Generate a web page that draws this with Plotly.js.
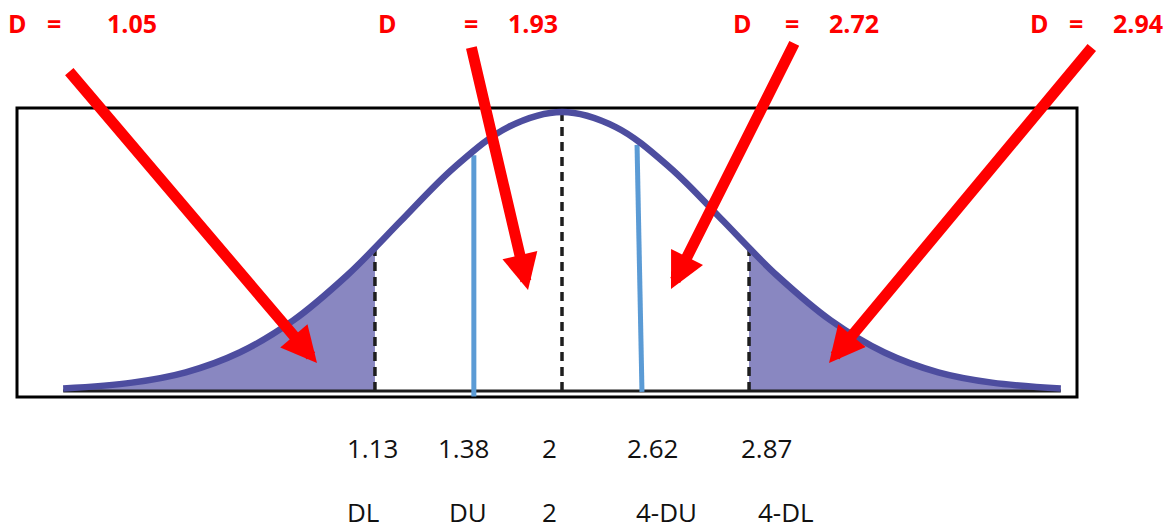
<!DOCTYPE html>
<html>
<head>
<meta charset="utf-8">
<script src="https://cdn.plot.ly/plotly-3.0.1.min.js"></script>
<style>html,body{margin:0;padding:0;background:#fff;}#chart{width:1176px;height:529px;}</style>
</head>
<body>
<div id="chart"></div>
<script>
// ---- data (Durbin-Watson d scale) ----
const curveX = [-0.32, 0, 0.25, 0.5, 0.75, 1.0, 1.13, 1.25, 1.5, 1.75, 2.0, 2.25, 2.5, 2.75, 2.87, 3.0, 3.25, 3.5, 3.75, 4.0, 4.32];
const curveY = [0.009, 0.030, 0.067, 0.138, 0.253, 0.414, 0.513, 0.609, 0.802, 0.946, 1.000, 0.946, 0.802, 0.609, 0.513, 0.414, 0.253, 0.138, 0.067, 0.030, 0.009];
const dL = 1.13, center = 2, fourMinusDL = 2.87;
const duLineX = [1.59, 1.59], duLineY = [-0.02, 0.845];
const fourMinusDuLineX = [2.372, 2.349], fourMinusDuLineY = [-0.003, 0.882];
const valueLabels = ['1.13', '1.38', '2', '2.62', '2.87'];
const valueLabelX = [1.119, 1.540, 1.940, 2.421, 2.953];
const nameLabels = ['DL', 'DU', '2', '4-DU', '4-DL'];
const nameLabelX = [1.074, 1.563, 1.940, 2.488, 3.042];
const dValues = ['1.05', '1.93', '2.72', '2.94'];
const dLetterX = [17.5, 387.5, 742, 1039];      // px
const dEqualX = [54, 470.5, 792, 1075.5];       // px
const dValueX = [132, 533, 853.5, 1137.5];      // px
const arrowTipX = [0.8605, 1.842, 2.507, 3.242];
const arrowTipY = [0.100, 0.362, 0.366, 0.100];
const arrowTailDX = [-249, -57, 124, 264];
const arrowTailDY = [-293, -244, -247, -317];

// ---- geometry ----
const W = 1176, H = 529;
const pxPerX = 215, pxPerY = 279, centerPx = 562, basePx = 391;
const xRange = [center - centerPx / pxPerX, center + (W - centerPx) / pxPerX];
const yRange = [-(H - basePx) / pxPerY, basePx / pxPerY];

const idx = v => curveX.indexOf(v);
const iL = idx(dL), iR = idx(fourMinusDL), iC = idx(center);

const fillColor = '#8987c1', lineColor = '#4d4d9f';
const traces = [];
traces.push({x: curveX.slice(0, iL + 1), y: curveY.slice(0, iL + 1), mode: 'lines', line: {width: 0, shape: 'spline', color: fillColor}, fill: 'tozeroy', fillcolor: fillColor, hoverinfo: 'skip'});
traces.push({x: curveX.slice(iR), y: curveY.slice(iR), mode: 'lines', line: {width: 0, shape: 'spline', color: fillColor}, fill: 'tozeroy', fillcolor: fillColor, hoverinfo: 'skip'});
// baseline
traces.push({x: [curveX[0], curveX[curveX.length - 1]], y: [0, 0], mode: 'lines', line: {color: '#1c1c1c', width: 3}, hoverinfo: 'skip'});
// dashed verticals
[iL, iC, iR].forEach(i => traces.push({x: [curveX[i], curveX[i]], y: [0, curveY[i]], mode: 'lines', line: {color: '#1e1e1e', width: 3.5, dash: '9px,6px'}, hoverinfo: 'skip'}));
// blue DU lines
traces.push({x: duLineX, y: duLineY, mode: 'lines', line: {color: '#5b9bd5', width: 5}, hoverinfo: 'skip'});
traces.push({x: fourMinusDuLineX, y: fourMinusDuLineY, mode: 'lines', line: {color: '#5b9bd5', width: 5}, hoverinfo: 'skip'});
// curve
traces.push({x: curveX, y: curveY, mode: 'lines', line: {color: lineColor, width: 6.5, shape: 'spline'}, hoverinfo: 'skip'});

const annotations = [];
const labelFont = {family: 'Open Sans, sans-serif', size: 26, color: '#111'};
const row1Y = (basePx - 448) / pxPerY, row2Y = (basePx - 512) / pxPerY;
valueLabels.forEach((t, i) => annotations.push({x: valueLabelX[i], y: row1Y, xref: 'x', yref: 'y', text: t, showarrow: false, font: labelFont, xanchor: 'center', yanchor: 'middle', borderpad: 0}));
nameLabels.forEach((t, i) => annotations.push({x: nameLabelX[i], y: row2Y, xref: 'x', yref: 'y', text: t, showarrow: false, font: labelFont, xanchor: 'center', yanchor: 'middle', borderpad: 0}));
const redFont = {family: 'Open Sans, sans-serif', size: 25, color: '#ff0000', weight: 'bold'};
const topY = 1 - 23.5 / H;
dValues.forEach((v, i) => {
  annotations.push({x: dLetterX[i] / W, y: topY, xref: 'paper', yref: 'paper', text: '<b>D</b>', showarrow: false, font: redFont, xanchor: 'center', yanchor: 'middle'});
  annotations.push({x: dEqualX[i] / W, y: topY, xref: 'paper', yref: 'paper', text: '<b>=</b>', showarrow: false, font: redFont, xanchor: 'center', yanchor: 'middle'});
  annotations.push({x: dValueX[i] / W, y: topY, xref: 'paper', yref: 'paper', text: '<b>' + v + '</b>', showarrow: false, font: redFont, xanchor: 'center', yanchor: 'middle'});
});
arrowTipX.forEach((x, i) => annotations.push({x: x, y: arrowTipY[i], xref: 'x', yref: 'y', text: '', showarrow: true, ax: arrowTailDX[i], ay: arrowTailDY[i], arrowhead: 2, arrowsize: 0.65, arrowwidth: 11, arrowcolor: '#ff0000'}));

const layout = {
  width: W, height: H, margin: {l: 0, r: 0, t: 0, b: 0},
  paper_bgcolor: '#ffffff', plot_bgcolor: '#ffffff',
  xaxis: {range: xRange, visible: false, fixedrange: true},
  yaxis: {range: yRange, visible: false, fixedrange: true},
  showlegend: false,
  shapes: [{type: 'rect', xref: 'paper', yref: 'paper', x0: 17 / W, x1: 1077 / W, y0: 1 - 397 / H, y1: 1 - 108 / H, line: {color: '#000', width: 3}, fillcolor: 'rgba(0,0,0,0)', layer: 'below'}],
  annotations: annotations
};
Plotly.newPlot('chart', traces, layout, {staticPlot: true, displayModeBar: false});
</script>
</body>
</html>
